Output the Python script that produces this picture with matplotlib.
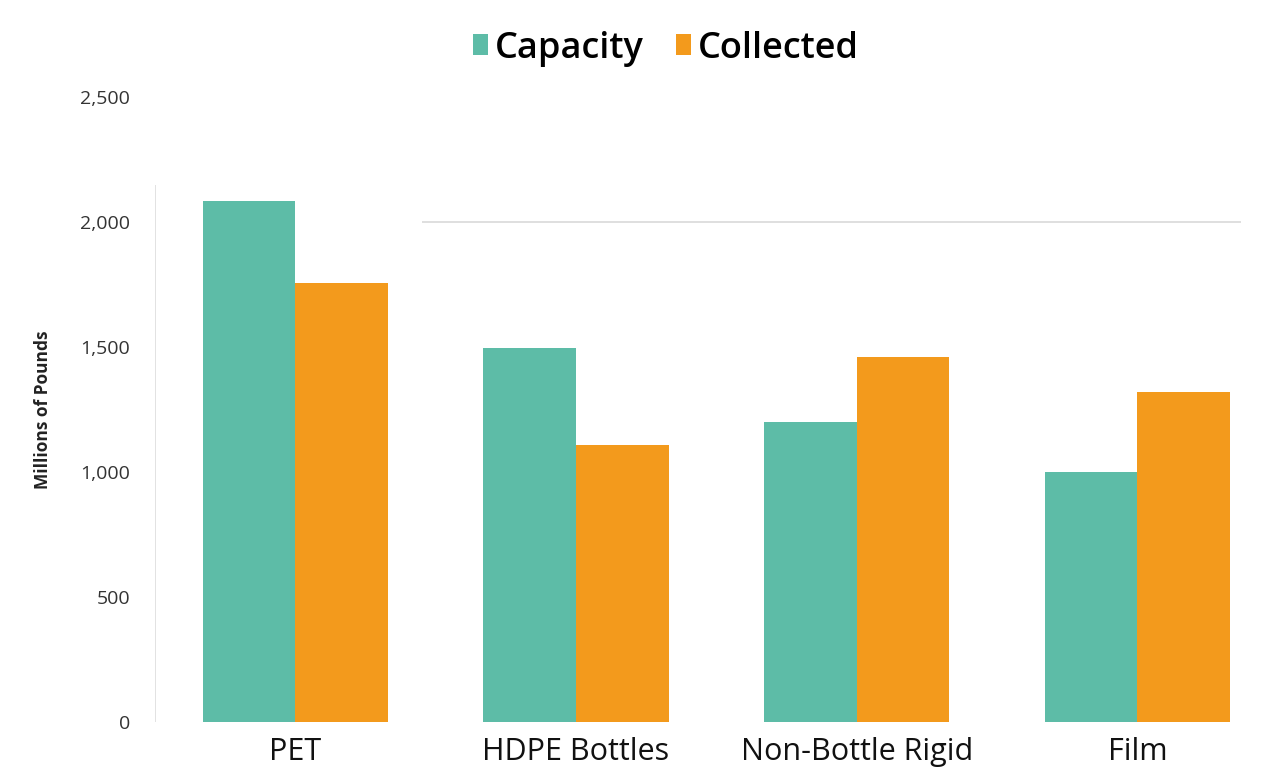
import numpy as np
import matplotlib.pyplot as plt

# datos
categorias = ['PET', 'HDPE Bottles', 'Non-Bottle Rigid', 'Film']
capacity = [2085, 1495, 1200, 1000]
collected = [1755, 1110, 1460, 1320]
yticks = [0, 500, 1000, 1500, 2000, 2500]
ytick_labels = ['0', '500', '1,000', '1,500', '2,000', '2,500']

cor_cap = '#5dbca7'
cor_col = '#f39a1c'

fig = plt.figure(figsize=(12.7, 7.72), dpi=100)
ax = fig.add_axes([0.122, 0.065, 0.862, 0.809])

x = np.arange(len(categorias))
w = 0.33
ax.bar(x - w / 2, capacity, width=w, color=cor_cap, label='Capacity')
ax.bar(x + w / 2, collected, width=w, color=cor_col, label='Collected')

ax.set_xlim(-0.5, 3.4)
ax.set_ylim(0, 2500)

# linha parcial em 2000 e eixo vertical parcial
ax.hlines(2000, 0.45, 3.37, color='#d9d9d9', linewidth=1.2, zorder=0)
ax.vlines(-0.5, 0, 2150, color='#dddddd', linewidth=1.2, zorder=0)

for s in ax.spines.values():
    s.set_visible(False)

ax.set_yticks(yticks)
ax.set_yticklabels(ytick_labels, fontsize=14, color='#333333', family='Open Sans')
ax.set_xticks(x)
ax.set_xticklabels(categorias, fontsize=22, color='#111111', family='Open Sans')
ax.tick_params(axis='y', length=0, pad=18)
ax.tick_params(axis='x', length=0, pad=11)

ax.set_ylabel('Millions of Pounds', fontsize=12.5, fontweight='bold', color='#222222',
              family='Open Sans', labelpad=20)

ax.legend(loc='center', bbox_to_anchor=(0.467, 1.078), ncol=2, frameon=False,
          prop={'family': 'Open Sans', 'size': 26, 'weight': 'semibold'},
          handlelength=0.4, handleheight=0.5, handletextpad=0.2, columnspacing=0.9)

plt.savefig('out.png', dpi=100)
